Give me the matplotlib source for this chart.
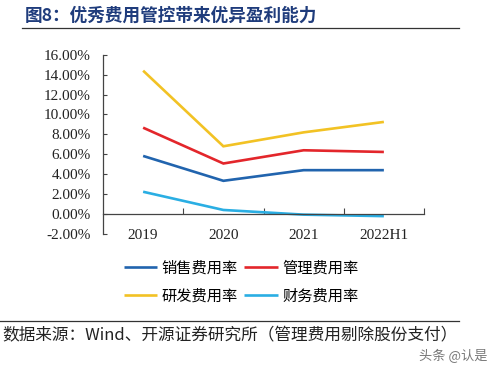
import matplotlib
matplotlib.use('Agg')
import matplotlib.pyplot as plt
from matplotlib.lines import Line2D
from matplotlib.ticker import FuncFormatter

plt.rcParams['font.family'] = ['Noto Sans CJK SC', 'DejaVu Sans']

# datos (%)
years = ['2019', '2020', '2021', '2022H1']
ventas = [5.83, 3.33, 4.40, 4.40]      # 销售费用率
gestion = [8.67, 5.07, 6.40, 6.23]     # 管理费用率
id_rate = [14.40, 6.80, 8.20, 9.25]    # 研发费用率
finanzas = [2.23, 0.40, -0.07, -0.22]  # 财务费用率
y_ticks = [-2, 0, 2, 4, 6, 8, 10, 12, 14, 16]

series = [
    ('销售费用率', ventas, '#2164AE'),
    ('管理费用率', gestion, '#E3262B'),
    ('研发费用率', id_rate, '#F2C224'),
    ('财务费用率', finanzas, '#2AAEE3'),
]

fig = plt.figure(figsize=(5, 3.7), dpi=100)
ax = fig.add_axes([0.206, 0.368, 0.642, 0.484])

x = list(range(len(years)))
lines = {}
for name, vals, col in series:
    lines[name], = ax.plot(x, vals, color=col, lw=1.9, solid_capstyle='butt',
                           solid_joinstyle='miter', label=name)

ax.set_xlim(-0.5, 3.5)
ax.set_ylim(-2, 16)
ax.set_yticks(y_ticks)
ax.yaxis.set_major_formatter(FuncFormatter(lambda v, p: '%.2f%%' % v))

for s in ['top', 'right']:
    ax.spines[s].set_visible(False)
ax.spines['left'].set_color('#444444')
ax.spines['left'].set_linewidth(0.9)
ax.spines['bottom'].set_position(('data', 0))
ax.spines['bottom'].set_color('#444444')
ax.spines['bottom'].set_linewidth(0.9)

ax.tick_params(axis='y', direction='in', length=3, width=0.8, color='#444444',
               labelsize=11, pad=9)
ax.set_xticks(x)
ax.set_xticklabels(years)
ax.tick_params(axis='x', which='major', length=0, labelsize=11, pad=11)
ax.set_xticks([0.5, 1.5, 2.5, 3.5], minor=True)
ax.tick_params(axis='x', which='minor', direction='in', length=4, width=0.8,
               color='#444444')
for lab in ax.get_xticklabels() + ax.get_yticklabels():
    lab.set_family(['Liberation Serif', 'DejaVu Serif'])
    lab.set_color('#222222')

orden = ['销售费用率', '研发费用率', '管理费用率', '财务费用率']
fig.legend([lines[n] for n in orden], orden, ncol=2, loc='center',
           bbox_to_anchor=(0.482, 0.238), frameon=False, fontsize=11,
           handlelength=2.2, handletextpad=0.3, columnspacing=0.4,
           labelspacing=0.75)

# titulo y lineas separadoras
fig.text(0.05, 0.958, '图8：优秀费用管控带来优异盈利能力', fontsize=12.7,
         fontweight='bold', color='#1F3C7C', va='center', ha='left')
fig.add_artist(Line2D([0.044, 0.918], [0.924, 0.924], color='#333333', lw=0.9))
fig.add_artist(Line2D([0.0, 0.918], [0.132, 0.132], color='#333333', lw=0.9))
fig.text(0.004, 0.092, '数据来源：Wind、开源证券研究所（管理费用剔除股份支付）',
         fontsize=12, color='#222222', va='center', ha='left')
fig.text(0.975, 0.038, '头条 @认是', fontsize=9.5, color='#777777',
         va='center', ha='right')

fig.savefig('out.png', dpi=100, facecolor='white')
